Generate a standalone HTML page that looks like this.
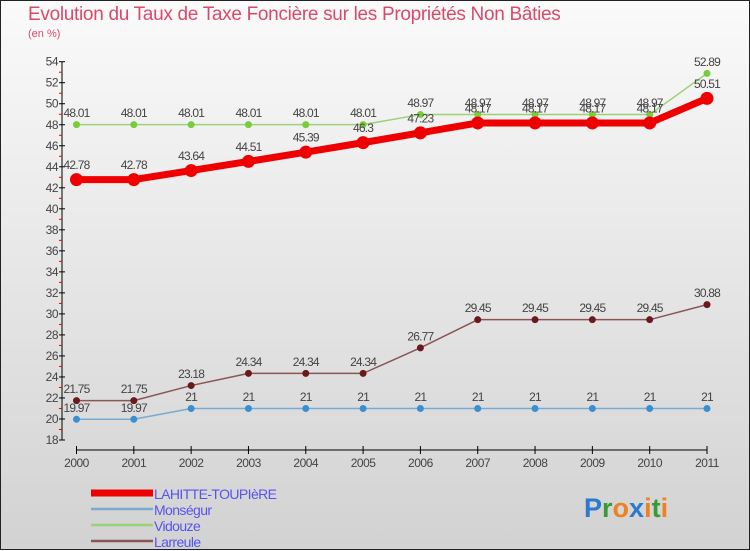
<!DOCTYPE html>
<html><head><meta charset="utf-8"><style>
body{margin:0;width:750px;height:550px;overflow:hidden;font-family:"Liberation Sans",sans-serif}
#wrap{position:relative;width:748px;height:548px;border:1px solid #222;background:linear-gradient(#fafafa,#d2d2d2)}
#title{position:absolute;left:27px;top:3px;font-size:19px;color:#d94a6a;letter-spacing:-0.3px}
#unit{position:absolute;left:27px;top:27px;font-size:11px;color:#d94a6a}
svg{position:absolute;left:0;top:0}
</style></head><body>
<div id="wrap">
<div id="title">Evolution du Taux de Taxe Foncière sur les Propriétés Non Bâties</div>
<div id="unit">(en %)</div>
<svg id="chart" width="750" height="550"></svg>
</div>
<script>
const years=[2000,2001,2002,2003,2004,2005,2006,2007,2008,2009,2010,2011];
const lahitte=[42.78,42.78,43.64,44.51,45.39,46.3,47.23,48.17,48.17,48.17,48.17,50.51];
const monsegur=[19.97,19.97,21,21,21,21,21,21,21,21,21,21];
const vidouze=[48.01,48.01,48.01,48.01,48.01,48.01,48.97,48.97,48.97,48.97,48.97,52.89];
const larreule=[21.75,21.75,23.18,24.34,24.34,24.34,26.77,29.45,29.45,29.45,29.45,30.88];
const yTicks=[18,20,22,24,26,28,30,32,34,36,38,40,42,44,46,48,50,52,54];
const NS="http://www.w3.org/2000/svg";
const svg=document.getElementById('chart');
const X=i=>75.5+i*(706-75.5)/(years.length-1);
const Y=v=>439-(v-18)*(439-60.7)/36;
function el(t,a,p){const e=document.createElementNS(NS,t);for(const k in a)e.setAttribute(k,a[k]);(p||svg).appendChild(e);return e;}
let ax=el('line',{x1:61,y1:Y(54),x2:61,y2:Y(18),stroke:'#000','stroke-width':1});


yTicks.forEach(v=>{
 el('line',{x1:58,x2:64,y1:Y(v),y2:Y(v),stroke:'#000'});
 if(v<54) el('line',{x1:58,x2:61,y1:Y(v+1),y2:Y(v+1),stroke:'#e00'});
 const t=el('text',{x:57,y:Y(v)+4,'text-anchor':'end','font-size':12,fill:'#444','letter-spacing':'-0.5'});
 t.textContent=v;
 
 
});
let xa=el('line',{x1:X(0),x2:X(11),y1:449,y2:449,stroke:'#000'});


years.forEach((y,i)=>{
 el('line',{x1:X(i),x2:X(i),y1:445,y2:453,stroke:'#000'});
 const t=el('text',{x:X(i),y:466,'text-anchor':'middle','font-size':12,fill:'#444','letter-spacing':'-0.5'});
 t.textContent=y;
 
 
});
function series(data,color,w,r,name,dotColor){
 const g=el('g',{});
 
 
 el('polyline',{points:data.map((v,i)=>X(i)+','+Y(v)).join(' '),fill:'none',stroke:color,'stroke-width':w,'stroke-linejoin':'round'},g);
 data.forEach((v,i)=>{
  const c=el('circle',{cx:X(i),cy:Y(v),r:r,fill:dotColor},g);
  
  
  const t=el('text',{x:X(i),y:Y(v)-(r+4),'text-anchor':'middle','font-size':12,fill:'#444','letter-spacing':'-0.8'},g);
  t.textContent=String(v);
  
  
 });
}
series(monsegur,'#7aaad0',1.5,3.5,'monsegur-series','#3a8fd0');
series(larreule,'#8a5555',1.5,3.5,'larreule-series','#6a1a1a');
series(vidouze,'#9ad27a',1.5,3.5,'vidouze-series','#7acc3a');
series(lahitte,'#ee0000',7,6.5,'lahitte-series','#ee0000');
const leg=[['LAHITTE-TOUPIèRE','#ee0000',7],['Monségur','#7aaad0',2.5],['Vidouze','#9ad27a',2.5],['Larreule','#8a5555',2.5]];
leg.forEach((l,i)=>{
 const y=492+i*16;
 const g=el('g',{});
 
 
 el('line',{x1:90,x2:152,y1:y,y2:y,stroke:l[1],'stroke-width':l[2]},g);
 const t=el('text',{x:153,y:y+6,'font-size':14,fill:'#5555ee','letter-spacing':'-0.6'},g);
 t.textContent=l[0];
});
const logo=el('text',{x:583,y:516,'font-size':27,'font-weight':'bold'});


[['P','#2a7ad0'],['r','#3a9a3a'],['o','#f08020'],['x','#2a7ad0'],['i','#f08020'],['t','#3a9a3a'],['i','#f08020']].forEach(c=>{const s=el('tspan',{fill:c[1]},logo);s.textContent=c[0];});
</script>
</body></html>
